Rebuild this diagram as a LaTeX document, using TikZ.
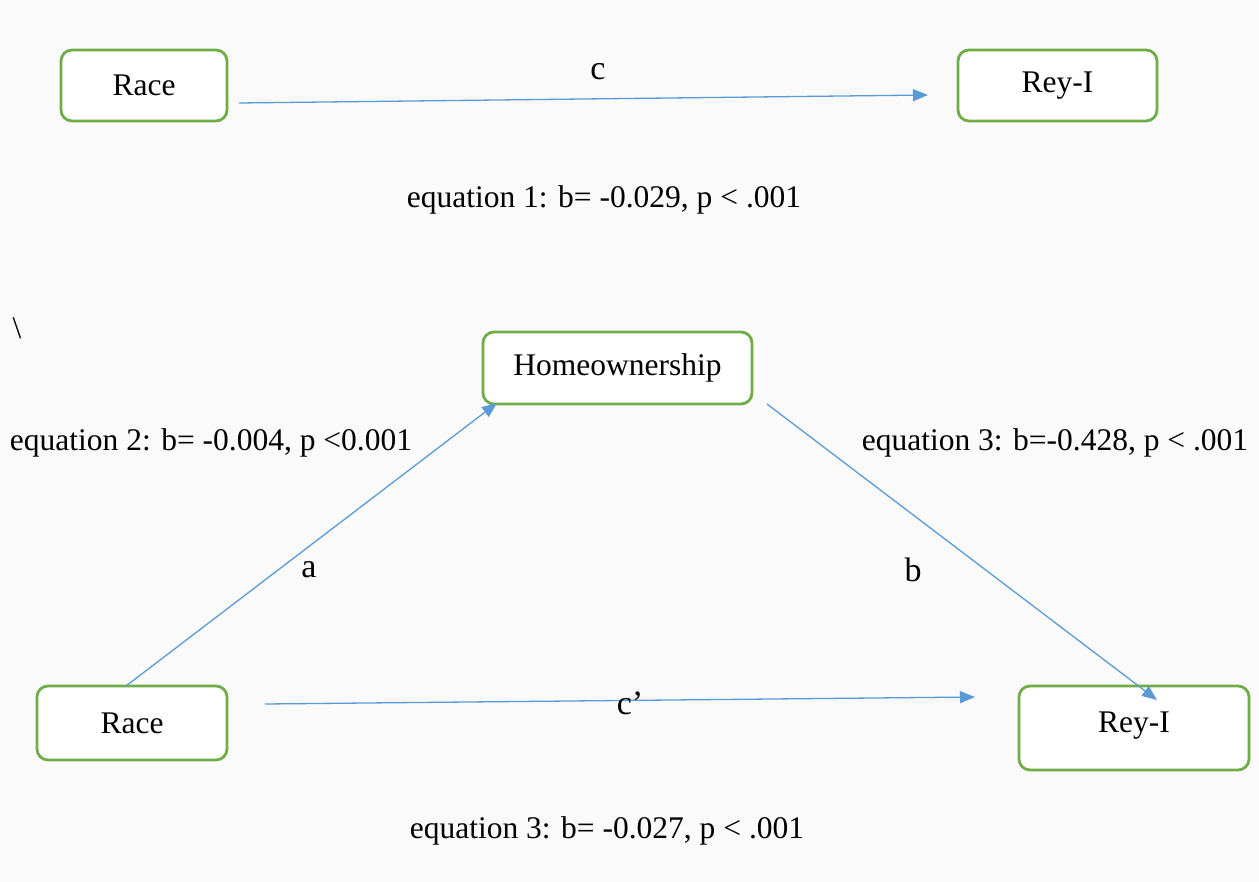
\documentclass[tikz,border=0pt]{standalone}
\usepackage{fontspec}
\setmainfont{Liberation Serif}
\usetikzlibrary{arrows.meta}
\definecolor{boxgreen}{HTML}{70AD47}
\definecolor{lineblue}{HTML}{5B9BD5}
\definecolor{bggray}{HTML}{FAFAFA}
\begin{document}
\begin{tikzpicture}[x=1pt,y=-1pt,
  varbox/.style={draw=boxgreen, fill=white, line width=2.8pt, rounded corners=11pt, inner sep=0pt, font=\fontsize{31.5}{36}\selectfont},
  path/.style={draw=lineblue, line width=1.3pt, -{Triangle[length=15pt,width=12pt]}},
  lbl/.style={font=\fontsize{34}{38}\selectfont, inner sep=0pt},
  eq/.style={font=\fontsize{31.5}{36}\selectfont, inner sep=0pt}]
\fill[bggray] (0,0) rectangle (1259,882);
\useasboundingbox (0,0) rectangle (1259,882);
% top model
\node[varbox, minimum width=166pt, minimum height=71pt] (race1) at (144,85.5) {Race};
\node[varbox, minimum width=199pt, minimum height=71pt] (rey1) at (1057.5,85.5) {Rey-I};
\coordinate (c1s) at (239,103);
\coordinate (c1e) at (928,95);
\draw[path] (c1s) -- (c1e);
\node[lbl] (clbl) at (598,72) {c};
\node[eq] (eq1) at (604,200) {equation 1: b= -0.029, p < .001};
\node[eq] (bs) at (17,328) {\textbackslash};
% bottom model
\node[varbox, minimum width=269pt, minimum height=72pt] (home) at (617.5,368) {Homeownership};
\node[varbox, minimum width=190pt, minimum height=74pt] (race2) at (132,723) {Race};
\node[varbox, minimum width=230pt, minimum height=84pt] (rey2) at (1134,728) {\raisebox{12pt}{Rey-I}};
\coordinate (as) at (126,686);
\coordinate (ae) at (497,403);
\draw[path] (as) -- (ae);
\coordinate (bs1) at (767,404);
\coordinate (be) at (1157,700);
\draw[path] (bs1) -- (be);
\coordinate (cps) at (265,704);
\coordinate (cpe) at (975,697);
\draw[path] (cps) -- (cpe);
\node[lbl] (albl) at (309,570) {a};
\node[lbl] (blbl) at (913,570) {b};
\node[lbl] (cplbl) at (630,703) {c’};
\node[eq] (eq2) at (211,443) {equation 2: b= -0.004, p <0.001};
\node[eq] (eq3r) at (1055,443) {equation 3: b=-0.428, p < .001};
\node[eq] (eq3b) at (607,831) {equation 3: b= -0.027, p < .001};
\end{tikzpicture}
\end{document}
